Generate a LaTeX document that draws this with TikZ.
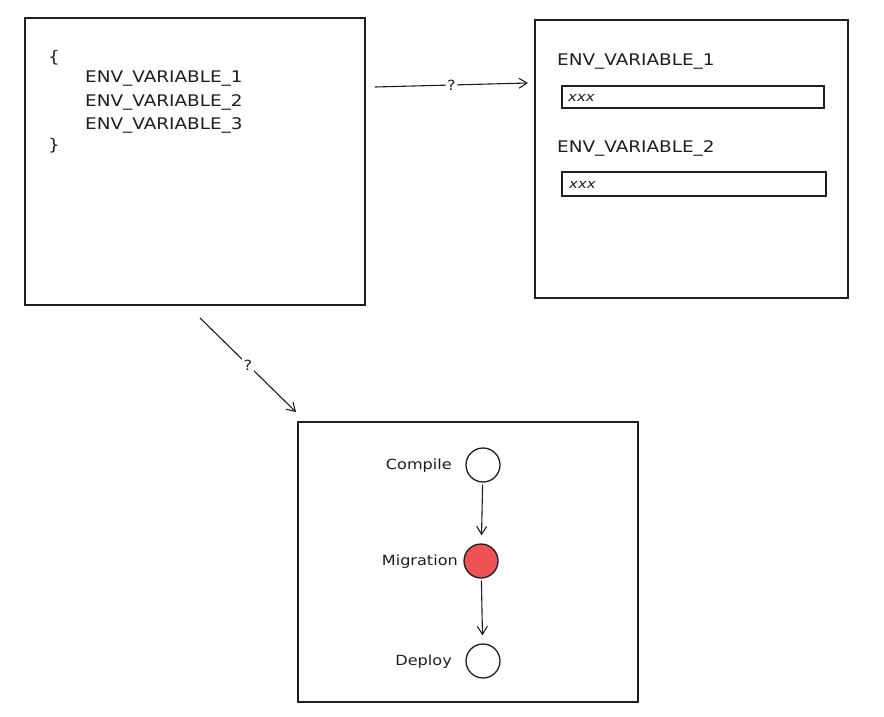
\documentclass[tikz,border=0pt]{standalone}
\usepackage{fontspec}
\setmainfont[FakeStretch=1.15]{DejaVu Sans}
\usetikzlibrary{arrows.meta}
\definecolor{ink}{HTML}{1E1E1E}
\definecolor{redfill}{HTML}{EE5253}
\tikzset{
  panel/.style={draw=ink, line width=1.4pt, rectangle, inner sep=0pt},
  field/.style={draw=ink, line width=1.2pt, rectangle, inner sep=0pt},
  codetext/.style={anchor=west, inner sep=0pt, text=ink, font=\fontsize{16}{18}\selectfont},
  valtext/.style={anchor=west, inner sep=0pt, text=ink, font=\fontsize{13}{15}\selectfont\itshape},
  stagecirc/.style={draw=ink, line width=1.3pt, circle, minimum size=34pt, inner sep=0pt},
  stagelabel/.style={anchor=east, inner sep=0pt, text=ink, font=\fontsize{14}{16}\selectfont},
  flow/.style={draw=ink, line width=1.1pt, -{Straight Barb[length=8pt,width=10pt,line width=1.1pt]}},
  qmark/.style={fill=white, inner sep=1.5pt, text=ink, font=\fontsize{14}{16}\selectfont}
}
\begin{document}
\begin{tikzpicture}[x=1pt,y=-1pt]
\useasboundingbox (0,0) rectangle (884,717);
% panels
\node[panel, minimum width=340pt, minimum height=287pt] (boxA) at (195,161.5) {};
\node[panel, minimum width=313pt, minimum height=278pt] (boxB) at (691.5,159) {};
\node[panel, minimum width=340pt, minimum height=280pt] (boxC) at (468,562) {};
% box A text
\node[codetext] (lb) at (48,58) {\{};
\node[codetext] (v1) at (85,79) {ENV\_VARIABLE\_1};
\node[codetext] (v2) at (85,102) {ENV\_VARIABLE\_2};
\node[codetext] (v3) at (85,125) {ENV\_VARIABLE\_3};
\node[codetext] (rb) at (48,146) {\}};
% box B form
\node[codetext] (f1) at (557,62) {ENV\_VARIABLE\_1};
\node[field, minimum width=262pt, minimum height=22pt] (in1) at (693,97) {};
\node[valtext] (x1) at (568,98) {xxx};
\node[codetext] (f2) at (557,148) {ENV\_VARIABLE\_2};
\node[field, minimum width=264pt, minimum height=24pt] (in2) at (694,184) {};
\node[valtext] (x2) at (569,185) {xxx};
% connector endpoints
\coordinate (a1s) at (375,87);
\coordinate (a1e) at (528,83);
\coordinate (a2s) at (200,318);
\coordinate (a2e) at (296,412);
\draw[flow] (a1s) -- node[qmark] (q1) {?} (a1e);
\draw[flow] (a2s) -- node[qmark] (q2) {?} (a2e);
% pipeline
\node[stagecirc] (c1) at (483,465) {};
\node[stagecirc, fill=redfill] (c2) at (481,561) {};
\node[stagecirc] (c3) at (483,661) {};
\node[stagelabel] (l1) at (452,466) {Compile};
\node[stagelabel] (l2) at (458,562) {Migration};
\node[stagelabel] (l3) at (452,662) {Deploy};
\draw[flow, shorten >=8pt, shorten <=2pt] (c1) -- (c2);
\draw[flow, shorten >=8pt, shorten <=2pt] (c2) -- (c3);
\end{tikzpicture}
\end{document}
